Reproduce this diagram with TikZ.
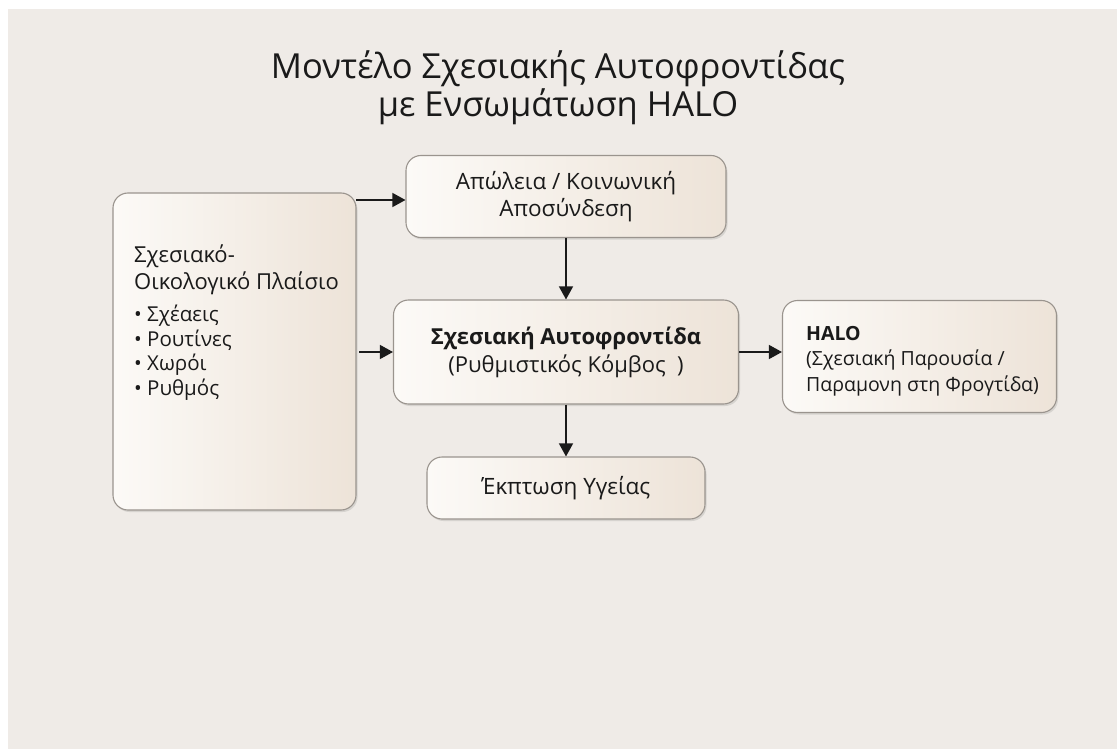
\documentclass[tikz,border=0pt]{standalone}
\usepackage{fontspec}
\setmainfont{Open Sans}
\usetikzlibrary{arrows.meta,shadows}
\definecolor{bg}{HTML}{EFEBE7}
\definecolor{boxl}{HTML}{FCFAF7}
\definecolor{boxr}{HTML}{EDE3D8}
\definecolor{edge}{HTML}{9A948E}
\definecolor{ink}{HTML}{1A1A1A}
\tikzset{
  card/.style={draw=edge, line width=1.1pt, rounded corners=15pt,
    left color=boxl, right color=boxr,
    drop shadow={shadow xshift=1.5pt, shadow yshift=-2pt, opacity=0.18, fill=black!60}},
  conn/.style={draw=ink, line width=1.4pt, -{Triangle[length=13pt,width=14pt]}},
  txt/.style={text=ink, font=\fontsize{22.5}{27}\selectfont, align=center, inner sep=0pt},
}
\begin{document}
\begin{tikzpicture}[x=1pt,y=-1pt]
\useasboundingbox (0,0) rectangle (1117,749);
\fill[white] (0,0) rectangle (1117,749);
\fill[bg] (8,9) rectangle (1117,749);
% title
\node[txt, font=\fontsize{34.5}{38}\selectfont] (title) at (558,88) {Μοντέλο Σχεσιακής Αυτοφροντίδας\\με Ενσωμάτωση HALO};
% boxes
\path[card] (113,193) rectangle (356,510);
\coordinate (leftNE) at (356,200);
\coordinate (leftE) at (356,352);
\node[txt, align=left, anchor=north west, font=\fontsize{22}{27}\selectfont] (ctx) at (134,245) {Σχεσιακό-\\Οικολογικό Πλαίσιο};
\node[txt, align=left, anchor=north west, font=\fontsize{20.5}{24.5}\selectfont] (list) at (134,305) {• Σχέαεις\\• Ρουτίνες\\• Χωρόι\\• Ρυθμός};
\node[card, minimum width=320pt, minimum height=82pt, inner sep=0pt] (loss) at (566,196.5) {};
\node[txt] (losst) at (loss.center) {Απώλεια / Κοινωνική\\Αποσύνδεση};
\node[card, minimum width=345pt, minimum height=104pt, inner sep=0pt] (self) at (566,352) {};
\node[txt, font=\fontsize{22}{28}\selectfont] (selft) at (self.center) {\textbf{Σχεσιακή Αυτοφροντίδα}\\(Ρυθμιστικός Κόμβος~~)};
\node[card, minimum width=274pt, minimum height=112pt, inner sep=0pt] (halo) at (919.5,356.5) {};
\node[txt, align=left, anchor=west, font=\fontsize{19.5}{25.5}\selectfont] (halot) at (806,361) {\textbf{HALO}\\(Σχεσιακή Παρουσία /\\Παραμονη στη Φρογτίδα)};
\node[card, minimum width=278pt, minimum height=62pt, inner sep=0pt] (health) at (566,488) {};
\node[txt] (healtht) at (health.center) {Έκπτωση Υγείας};
% connectors
\draw[conn] (leftNE) -- (leftNE -| loss.west);
\draw[conn] (leftE) ++(3,0) -- (leftE -| self.west);
\draw[conn] (loss.south) -- (self.north);
\draw[conn] (self.south) -- (health.north);
\draw[conn] (self.east) -- (self.east -| halo.west);
\end{tikzpicture}
\end{document}
